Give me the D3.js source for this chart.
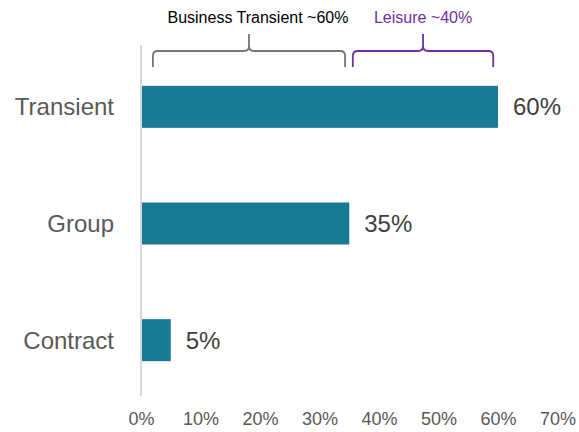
<!DOCTYPE html>
<html lang="en">
<head>
<meta charset="UTF-8">
<title>Segment mix</title>
<script src="https://cdn.jsdelivr.net/npm/d3@7/dist/d3.min.js"></script>
<style>
    body { margin: 0; background: #fff; }
    text { font-family: "Liberation Sans", Arial, sans-serif; }
</style>
</head>
<body>
<svg id="main" width="579" height="432"></svg>
<script>
    // data
    const categories = ['Transient', 'Group', 'Contract'];
    const shares = [60, 35, 5];
    const xTicks = [0, 10, 20, 30, 40, 50, 60, 70];
    // brace annotations: label, start %, end %
    const braceLabels = ['Business Transient ~60%', 'Leisure ~40%'];
    const braceStart = [2, 35.6];
    const braceEnd = [34.3, 59.2];
    const braceColors = ['#767676', '#7030a0'];
    const braceTextColors = ['#000000', '#7030a0'];

    const svg = d3.select('svg#main');
    const x = d3.scaleLinear().domain([0, 70]).range([141, 557.5]);
    const y = d3.scaleBand().domain(categories).range([48.5, 398.5]).paddingInner(0.64).paddingOuter(0.32);

    // bars
    svg.append('g').selectAll('rect')
        .data(categories)
        .join('rect')
        .attr('x', x(0))
        .attr('y', d => y(d))
        .attr('width', (d, i) => x(shares[i]) - x(0))
        .attr('height', y.bandwidth())
        .attr('fill', '#187b93');

    // value labels
    svg.append('g').selectAll('text')
        .data(categories)
        .join('text')
        .attr('x', (d, i) => x(shares[i]) + 15)
        .attr('y', d => y(d) + y.bandwidth() / 2)
        .attr('dy', '0.35em')
        .attr('font-size', 24)
        .attr('fill', '#404040')
        .text((d, i) => shares[i] + '%');

    // category axis
    svg.append('line')
        .attr('x1', x(0)).attr('x2', x(0))
        .attr('y1', 45).attr('y2', 396)
        .attr('stroke', '#d9d9d9').attr('stroke-width', 2);
    svg.append('g').selectAll('text')
        .data(categories)
        .join('text')
        .attr('x', 114)
        .attr('y', d => y(d) + y.bandwidth() / 2)
        .attr('dy', '0.35em')
        .attr('text-anchor', 'end')
        .attr('font-size', 24)
        .attr('fill', '#595959')
        .text(d => d);

    // x axis ticks
    const xAxis = svg.append('g')
        .attr('transform', 'translate(0,405)')
        .call(d3.axisBottom(x).tickValues(xTicks).tickSize(0).tickPadding(7).tickFormat(d => d + '%'));
    xAxis.select('.domain').remove();
    xAxis.selectAll('text')
        .attr('font-size', 18)
        .attr('font-family', '"Liberation Sans", Arial, sans-serif')
        .attr('fill', '#595959');

    // braces
    braceLabels.forEach((lab, i) => {
        const x0 = x(braceStart[i]), x1 = x(braceEnd[i]);
        const xm = (x0 + x1) / 2;
        const top = 51, bot = 67, tip = 34, r = 5;
        const p = d3.path();
        p.moveTo(x0, bot);
        p.lineTo(x0, top + r);
        p.quadraticCurveTo(x0, top, x0 + r, top);
        p.lineTo(xm - r, top);
        p.quadraticCurveTo(xm, top, xm, top - r);
        p.lineTo(xm, tip);
        p.moveTo(xm, top - r);
        p.quadraticCurveTo(xm, top, xm + r, top);
        p.lineTo(x1 - r, top);
        p.quadraticCurveTo(x1, top, x1, top + r);
        p.lineTo(x1, bot);
        svg.append('path')
            .attr('d', p.toString())
            .attr('fill', 'none')
            .attr('stroke', braceColors[i])
            .attr('stroke-width', 1.8);
        svg.append('text')
            .attr('x', i === 0 ? xm + 9 : xm)
            .attr('y', 23)
            .attr('text-anchor', 'middle')
            .attr('font-size', 16)
            .attr('fill', braceTextColors[i])
            .text(lab);
    });
</script>
</body>
</html>
